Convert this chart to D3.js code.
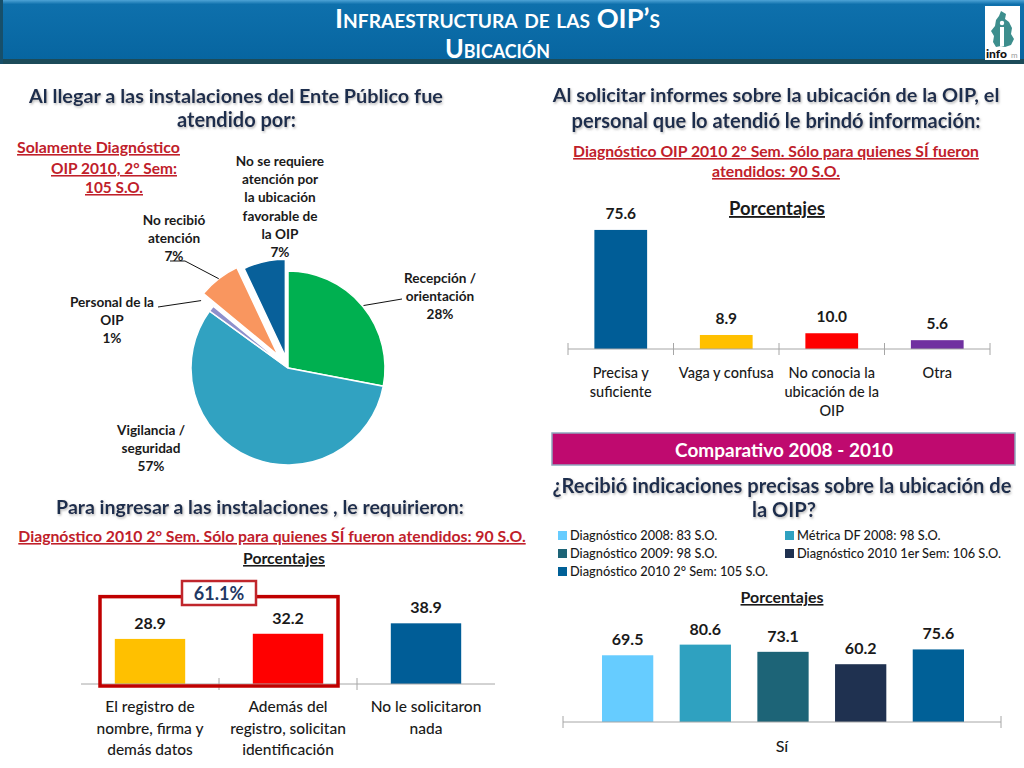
<!DOCTYPE html>
<html>
<head>
<meta charset="utf-8">
<script src="https://cdn.jsdelivr.net/npm/d3@7"></script>
<style>
body { margin: 0; background: #fff; }
svg text { font-family: Lato, "Open Sans", sans-serif; }
</style>
</head>
<body>
<script>
var width = 1024, height = 768;

// pie: Al llegar a las instalaciones...
var pieCats = ["Recepción /|orientación", "Vigilancia /|seguridad", "Personal de la|OIP", "No recibió|atención", "No se requiere|atención por|la ubicación|favorable de|la OIP"];
var pieValues = [28, 57, 1, 7, 7];
var pieColors = ["#00b050", "#31a2c1", "#8e90cc", "#f9965f", "#08609a"];

// bars: informacion brindada
var infoCats = ["Precisa y|suficiente", "Vaga y confusa", "No conocia la|ubicación de la|OIP", "Otra"];
var infoValues = [75.6, 8.9, 10.0, 5.6];
var infoColors = ["#005d97", "#ffc000", "#ff0000", "#7030a0"];

// bars: para ingresar le requirieron
var reqCats = ["El registro de|nombre, firma y|demás datos", "Además del|registro, solicitan|identificación", "No le solicitaron|nada"];
var reqValues = [28.9, 32.2, 38.9];
var reqColors = ["#ffc000", "#ff0000", "#005d97"];
var reqTotal = "61.1%";

// comparativo 2008 - 2010
var compCats = ["Sí"];
var compSeries = ["Diagnóstico 2008: 83 S.O.", "Métrica DF 2008: 98 S.O.", "Diagnóstico 2009: 98 S.O.", "Diagnóstico 2010 1er Sem: 106 S.O.", "Diagnóstico 2010 2° Sem: 105 S.O."];
var compValues = [69.5, 80.6, 73.1, 60.2, 75.6];
var compColors = ["#66ccff", "#2fa1c0", "#1d6477", "#1f3150", "#006097"];

var svg = d3.select("body").append("svg")
    .attr("width", width)
    .attr("height", height);

var defs = svg.append("defs");
var grad = defs.append("linearGradient").attr("id", "hdr")
    .attr("x1", 0).attr("y1", 0).attr("x2", 0).attr("y2", 1);
grad.append("stop").attr("offset", "0%").attr("stop-color", "#4ea3d6");
grad.append("stop").attr("offset", "7%").attr("stop-color", "#0e70ac");
grad.append("stop").attr("offset", "100%").attr("stop-color", "#0765a0");
defs.append("filter").attr("id", "shadow")
    .append("feDropShadow").attr("dx", 1).attr("dy", 1.5).attr("stdDeviation", 0.8)
    .attr("flood-color", "#8a8a8a").attr("flood-opacity", 0.6);

// shrink/grow text to a measured width
function fit(t, w) {
    var len = t.node().getComputedTextLength();
    var fs = parseFloat(t.style("font-size"));
    if (len > 0) t.style("font-size", (fs * w / len) + "px");
    return t;
}

function multi(g, x, y, str, lh, size, weight, color) {
    var t = g.append("text")
        .attr("x", x).attr("y", y)
        .attr("text-anchor", "middle")
        .style("font-size", size + "px")
        .style("font-weight", weight)
        .attr("fill", color);
    str.split("|").forEach(function(s, i) {
        t.append("tspan").attr("x", x).attr("dy", i ? lh : 0).text(s);
    });
    return t;
}

function txt(x, y, s, size, weight, color, w) {
    var t = svg.append("text")
        .attr("x", x).attr("y", y)
        .attr("text-anchor", "middle")
        .style("font-size", size + "px")
        .style("font-weight", weight)
        .attr("fill", color)
        .text(s);
    if (w) fit(t, w);
    return t;
}

//Title bar
svg.append("rect").attr("x", 0).attr("y", 0).attr("width", width).attr("height", 61).attr("fill", "url(#hdr)");
svg.append("rect").attr("x", 0).attr("y", 59).attr("width", width).attr("height", 5).attr("fill", "#1c4b59");
svg.append("rect").attr("x", 0).attr("y", 0).attr("width", 3).attr("height", 64).attr("fill", "#174f6a");
svg.append("text").attr("x", 335).attr("y", 28)
    .style("font-size", "27px").style("font-weight", "bold").style("font-variant", "small-caps")
    .attr("fill", "#fff").attr("textLength", 325).attr("lengthAdjust", "spacingAndGlyphs")
    .text("Infraestructura de las OIP’s");
svg.append("text").attr("x", 445).attr("y", 58)
    .style("font-size", "27px").style("font-weight", "bold").style("font-variant", "small-caps")
    .attr("fill", "#fff").attr("textLength", 105).attr("lengthAdjust", "spacingAndGlyphs")
    .text("Ubicación");

// logo
var logo = svg.append("g");
logo.append("rect").attr("x", 985).attr("y", 6).attr("width", 35).attr("height", 54).attr("fill", "#fff");
logo.append("path")
    .attr("d", "M1001,11 L1006,14 L1005,19 L1009,22 L1012,28 L1011,34 L1014,39 L1011,45 L1005,47 L1001,46 L996,47 L993,42 L994,36 L991,31 L995,26 L996,20 L999,16 Z")
    .attr("fill", "#3d8e8d");
logo.append("rect").attr("x", 1000).attr("y", 27).attr("width", 4).attr("height", 19).attr("fill", "#fff");
logo.append("circle").attr("cx", 1002).attr("cy", 23).attr("r", 2.2).attr("fill", "#fff");
logo.append("text").attr("x", 986).attr("y", 58).style("font-size", "12px").style("font-weight", "900")
    .attr("fill", "#111").text("info");
logo.append("text").attr("x", 1011).attr("y", 58).style("font-size", "8px").attr("fill", "#999").text("m");

var navy = "#1f2d4d", red = "#c0202a", dark = "#1a1a1a";

//Left top: pie
txt(236, 103, "Al llegar a las instalaciones del Ente Público fue", 18, "bold", navy, 414).attr("filter", "url(#shadow)");
txt(236.5, 127, "atendido por:", 18, "bold", navy, 119).attr("filter", "url(#shadow)");
txt(98.5, 153, "Solamente Diagnóstico", 15, "bold", red, 163).style("text-decoration", "underline");
txt(114, 174, "OIP 2010, 2° Sem:", 15, "bold", red, 126).style("text-decoration", "underline");
txt(114, 193, "105 S.O.", 15, "bold", red, 58).style("text-decoration", "underline");

var pcx = 288, pcy = 368, pr = 97;
var explode = [0, 0, 0, 16, 12];
var pie = d3.pie().sort(null).value(function(d) { return d; });
var arc = d3.arc().innerRadius(0).outerRadius(pr);
var arcs = pie(pieValues);
var pg = svg.append("g").attr("transform", "translate(" + pcx + "," + pcy + ")");

function dir(d) {
    var a = (d.startAngle + d.endAngle) / 2;
    return [Math.sin(a), -Math.cos(a)];
}

pg.selectAll("path.slice").data(arcs).enter().append("path")
    .attr("class", "slice")
    .attr("d", arc)
    .attr("transform", function(d, i) {
        var v = dir(d);
        return "translate(" + (v[0] * explode[i]) + "," + (v[1] * explode[i]) + ")";
    })
    .attr("fill", function(d, i) { return pieColors[i]; })
    .attr("stroke", "#fff")
    .attr("stroke-width", 1.5);

// label layout for each slice: centre x, first baseline, leader radius and leader end
var pieLab = [
    { x: 440, y: 283, lr: 98, end: [402, 299] },
    { x: 151, y: 435, lr: 0 },
    { x: 112, y: 307, lr: 110, end: [158, 307] },
    { x: 174, y: 225, lr: 113, end: [185, 261], tail: [170, 261] },
    { x: 280, y: 166, lr: 0 }
];
var plg = svg.append("g");
arcs.forEach(function(d, i) {
    var L = pieLab[i];
    var s = pieCats[i] + "|" + Math.round(d.value) + "%";
    multi(plg, L.x, L.y, s, 18.2, 13.6, "bold", dark);
    if (L.lr) {
        var v = dir(d);
        var pts = [[pcx + v[0] * L.lr, pcy + v[1] * L.lr], L.end];
        if (L.tail) pts.push(L.tail);
        plg.append("path")
            .attr("d", d3.line()(pts))
            .attr("fill", "none")
            .attr("stroke", "#111")
            .attr("stroke-width", 1);
    }
});

// generic bar chart
function barChart(o) {
    var g = svg.append("g");
    var x = d3.scaleBand().domain(o.cats).range([o.x0, o.x1]);
    var y = d3.scaleLinear().domain([0, 100]).range([o.y0, o.y0 - o.h100]);
    var bw = x.bandwidth() * o.ratio;

    g.selectAll("rect.bar").data(o.values).enter().append("rect")
        .attr("class", "bar")
        .attr("x", function(d, i) { return x(o.cats[i]) + (x.bandwidth() - bw) / 2; })
        .attr("y", function(d) { return y(d); })
        .attr("width", bw)
        .attr("height", function(d) { return y(0) - y(d); })
        .attr("fill", function(d, i) { return o.colors[i]; });

    g.selectAll("text.val").data(o.values).enter().append("text")
        .attr("class", "val")
        .attr("x", function(d, i) { return x(o.cats[i]) + x.bandwidth() / 2; })
        .attr("y", function(d) { return y(d) - o.lab; })
        .attr("text-anchor", "middle")
        .style("font-size", o.vsize + "px")
        .style("font-weight", "bold")
        .attr("fill", dark)
        .text(function(d) { return d.toFixed(1); });

    // axis with crossing ticks at category boundaries
    var ax = g.append("g").attr("transform", "translate(0," + o.y0 + ")")
        .call(d3.axisBottom(x).tickSize(0).tickFormat(""));
    ax.select(".domain").attr("stroke", "#a6a6a6").attr("d", "M" + o.x0 + ",0H" + o.x1);
    var b = o.cats.map(function(c) { return x(c); }).concat([o.x1]);
    if (!o.endTicks) b = b.slice(1, -1);
    g.selectAll("line.tk").data(b).enter().append("line")
        .attr("x1", function(d) { return d; }).attr("x2", function(d) { return d; })
        .attr("y1", o.y0 - 6).attr("y2", o.y0 + 6)
        .attr("stroke", "#a6a6a6");

    o.cats.forEach(function(c) {
        multi(g, x(c) + x.bandwidth() / 2, o.catY, c, o.catLh, o.csize, "500", dark);
    });
    return { x: x, y: y, g: g };
}

//Right top
txt(776, 102, "Al solicitar informes sobre la ubicación de la OIP, el", 18, "bold", navy, 447).attr("filter", "url(#shadow)");
txt(776, 128, "personal que lo atendió le brindó información:", 18, "bold", navy, 409).attr("filter", "url(#shadow)");
txt(776, 157, "Diagnóstico OIP 2010 2° Sem. Sólo para quienes SÍ fueron", 14, "bold", red, 406).style("text-decoration", "underline");
txt(776, 177, "atendidos: 90 S.O.", 14, "bold", red, 128).style("text-decoration", "underline");
txt(777, 215, "Porcentajes", 16, "bold", dark, 96).style("text-decoration", "underline");

barChart({
    cats: infoCats, values: infoValues, colors: infoColors,
    x0: 568, x1: 990, y0: 349, h100: 157.5, ratio: 0.5, lab: 11,
    vsize: 15.5, csize: 14.5, catY: 378, catLh: 19, endTicks: true
});

//Left bottom
txt(260, 514, "Para ingresar a las instalaciones , le requirieron:", 18, "bold", navy, 408).attr("filter", "url(#shadow)");
txt(272, 542, "Diagnóstico 2010 2° Sem. Sólo para quienes SÍ fueron atendidos: 90 S.O.", 14, "bold", red, 508).style("text-decoration", "underline");
txt(284, 564, "Porcentajes", 14, "bold", dark, 82).style("text-decoration", "underline");

var req = barChart({
    cats: reqCats, values: reqValues, colors: reqColors,
    x0: 81, x1: 495, y0: 684, h100: 156, ratio: 0.51, lab: 10,
    vsize: 16, csize: 15.5, catY: 712, catLh: 21.5, endTicks: false
});

// highlight box around the first two bars
var bx0 = req.x(reqCats[0]) + 19, bx1 = req.x(reqCats[1]) + req.x.bandwidth() - 19;
req.g.append("rect")
    .attr("x", bx0).attr("y", req.y(56))
    .attr("width", bx1 - bx0).attr("height", req.y(0) - req.y(56) + 2)
    .attr("fill", "none").attr("stroke", "#c00000").attr("stroke-width", 3.5);
req.g.append("rect")
    .attr("x", 182).attr("y", 581).attr("width", 74).attr("height", 24)
    .attr("fill", "#fff").attr("stroke", "#c0262c").attr("stroke-width", 2.5);
req.g.append("text").attr("x", 219).attr("y", 600).attr("text-anchor", "middle")
    .style("font-size", "18px").style("font-weight", "bold").attr("fill", "#1f3864").text(reqTotal);

//Right bottom: comparativo
svg.append("rect").attr("x", 552).attr("y", 433).attr("width", 463).attr("height", 32)
    .attr("fill", "#bf0a6f").attr("stroke", "#8fa7bd").attr("stroke-width", 1.5);
txt(784, 457, "Comparativo 2008 - 2010", 18, "bold", "#fff", 218);
txt(782, 493, "¿Recibió indicaciones precisas sobre la ubicación de", 20, "bold", navy, 459).attr("filter", "url(#shadow)");
txt(784, 517, "la OIP?", 20, "bold", navy, 64).attr("filter", "url(#shadow)");

var legPos = [[558, 540], [785, 540], [558, 558], [785, 558], [558, 576]];
var leg = svg.append("g");
compSeries.forEach(function(s, i) {
    leg.append("rect").attr("x", legPos[i][0]).attr("y", legPos[i][1] - 9)
        .attr("width", 9).attr("height", 9).attr("fill", compColors[i]);
    leg.append("text").attr("x", legPos[i][0] + 12).attr("y", legPos[i][1])
        .style("font-size", "12.8px").style("font-weight", "500").attr("fill", dark).text(s);
});

txt(782, 603, "Porcentajes", 14, "bold", dark, 83).style("text-decoration", "underline");

var cx = d3.scaleBand().domain(compCats).range([563, 1001]);
var cy = d3.scaleLinear().domain([0, 100]).range([722, 722 - 96]);
var cs = d3.scaleBand().domain(compSeries).range([cx(compCats[0]) + 39, cx(compCats[0]) + cx.bandwidth() - 37]).paddingInner(0.34);
var cg = svg.append("g");
cg.selectAll("rect").data(compValues).enter().append("rect")
    .attr("x", function(d, i) { return cs(compSeries[i]); })
    .attr("y", function(d) { return cy(d); })
    .attr("width", cs.bandwidth())
    .attr("height", function(d) { return cy(0) - cy(d); })
    .attr("fill", function(d, i) { return compColors[i]; });
cg.selectAll("text.val").data(compValues).enter().append("text")
    .attr("class", "val")
    .attr("x", function(d, i) { return cs(compSeries[i]) + cs.bandwidth() / 2; })
    .attr("y", function(d) { return cy(d) - 10; })
    .attr("text-anchor", "middle")
    .style("font-size", "16px").style("font-weight", "bold").attr("fill", dark)
    .text(function(d) { return d.toFixed(1); });
var cax = cg.append("g").attr("transform", "translate(0,722)")
    .call(d3.axisBottom(cx).tickSize(0).tickFormat(""));
cax.select(".domain").attr("stroke", "#a6a6a6").attr("d", "M563,0H1001");
cg.selectAll("line.tk").data([563, 1001]).enter().append("line")
    .attr("x1", function(d) { return d; }).attr("x2", function(d) { return d; })
    .attr("y1", 716).attr("y2", 728).attr("stroke", "#a6a6a6");
cg.append("text").attr("x", cx(compCats[0]) + cx.bandwidth() / 2).attr("y", 752)
    .attr("text-anchor", "middle").style("font-size", "16px").style("font-weight", "500").attr("fill", dark).text(compCats[0]);
</script>
</body>
</html>
